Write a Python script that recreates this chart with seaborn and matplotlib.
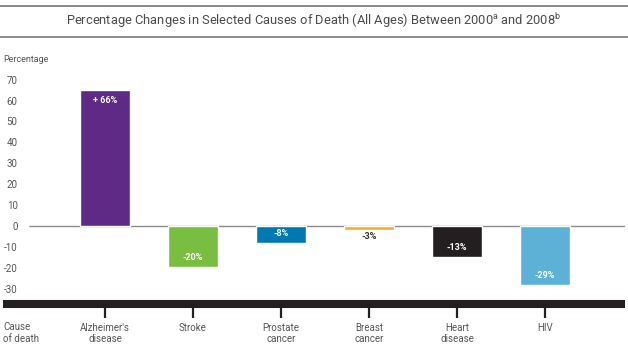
import matplotlib
matplotlib.use("Agg")
import matplotlib.pyplot as plt
import seaborn as sns
import pandas as pd

categories = ["Alzheimer's\ndisease", "Stroke", "Prostate\ncancer", "Breast\ncancer", "Heart\ndisease", "HIV"]
values = [65, -19.7, -8.2, -2, -14.8, -28.3]
value_labels = ["+ 66%", "-20%", "-8%", "-3%", "-13%", "-29%"]
colors = ["#5F2A85", "#79BE41", "#0079B1", "#F0B323", "#231F20", "#5DB1D7"]
yticks = [70, 60, 50, 40, 30, 20, 10, 0, -10, -20, -30]

sns.set_theme(style="white")
plt.rcParams["font.family"] = ["Roboto", "DejaVu Sans"]

df = pd.DataFrame({"cause": categories, "pct": values})

W, H = 628, 349
fig = plt.figure(figsize=(W / 100, H / 100), dpi=100)
ax = fig.add_axes([3 / W, 1 - 304 / H, (625 - 3) / W, (304 - 75) / H])

sns.barplot(data=df, x="cause", y="pct", hue="cause", palette=dict(zip(categories, colors)),
            legend=False, width=0.57, saturation=1, ax=ax, zorder=3)

ax.set_xlim(-1.159, 5.909)
ax.set_ylim(-37.3, 72.2)
ax.hlines(0, -0.864, 5.909, color="#8a8a8a", lw=1.0, zorder=2)

for s in ["top", "right", "left"]:
    ax.spines[s].set_visible(False)
ax.spines["bottom"].set_color("#231F20")
ax.spines["bottom"].set_linewidth(5.8)
ax.spines["bottom"].set_capstyle("butt")

ax.set_yticks(yticks)
ax.set_yticklabels([str(t) for t in yticks])
ax.tick_params(axis="y", length=0, pad=-10.5, labelsize=7, labelcolor="#555555")
for lab in ax.get_yticklabels():
    lab.set_horizontalalignment("right")

ax.tick_params(axis="x", direction="out", length=10, width=1.6, color="#231F20",
               bottom=True, pad=3.5, labelsize=7, labelcolor="#555555")
ax.set_xlabel("")
ax.set_ylabel("")

for i, (v, lab) in enumerate(zip(values, value_labels)):
    if abs(v) < 4:
        ax.annotate(lab, (i, v), xytext=(0, -4.5), textcoords="offset points",
                    ha="center", va="center", fontsize=6.5, fontweight="bold", color="#333333", zorder=4)
    else:
        off = -7.8 if v > 0 else 6.8
        ax.annotate(lab, (i, v), xytext=(0, off), textcoords="offset points",
                    ha="center", va="center", fontsize=6.5, fontweight="bold", color="white", zorder=4)

fig.text(314 / W, 1 - 21 / H, "Percentage Changes in Selected Causes of Death (All Ages) Between 2000$^{\\mathregular{a}}$ and 2008$^{\\mathregular{b}}$",
         ha="center", va="center", fontsize=9.3, color="#4a4a4a")
fig.add_artist(plt.Line2D([0, 1], [1 - 6 / H, 1 - 6 / H], transform=fig.transFigure, color="#777777", lw=1.2))
fig.add_artist(plt.Line2D([0, 1], [1 - 37 / H, 1 - 37 / H], transform=fig.transFigure, color="#777777", lw=1.2))
fig.text(3 / W, 1 - 60 / H, "Percentage", ha="left", va="center", fontsize=6.5, color="#555555")
fig.text(3 / W, 1 - 322 / H, "Cause\nof death", ha="left", va="top", fontsize=7, color="#555555", linespacing=1.3)

fig.savefig("out.png", dpi=100)
